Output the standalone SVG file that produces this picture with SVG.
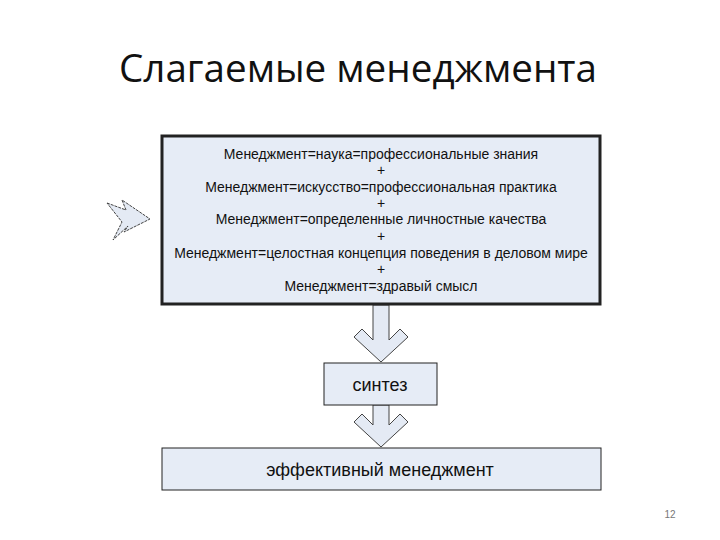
<svg xmlns="http://www.w3.org/2000/svg" width="720" height="540" viewBox="0 0 720 540">
<style>
.t{font-family:"Liberation Sans",Arial,sans-serif;font-size:14px;fill:#111;text-anchor:middle}
.big{font-size:18px}
.b{fill:#e6ecf6;stroke:#222}
.ar{fill:#e4eaf4;stroke:#444;stroke-width:1}
</style>
<rect width="720" height="540" fill="#fff"/>
<text x="358" y="82" font-family="'Open Sans','Noto Sans',sans-serif" font-size="38" fill="#111" text-anchor="middle" textLength="478" lengthAdjust="spacingAndGlyphs">Слагаемые менеджмента</text>
<g id="connectors">
<path class="ar" d="M373,305 H389 V340 L400,329 L408,337 L381,362 L354,337 L362,329 L373,340 Z"/>
<path class="ar" d="M373,405 H389 V425 L400,414 L408,422 L381,447 L354,422 L362,414 L373,425 Z"/>
<path class="ar" d="M107,203 L126,210 L122,200 L150,219 L124,232 L128,226 L113,240 L122,222 Z" stroke-dasharray="3,1"/>
</g>
<g id="components">
<rect class="b" x="162" y="136" width="438" height="168" stroke-width="3"/>
<text class="t" x="381" y="159">Менеджмент=наука=профессиональные знания</text>
<text class="t" x="381" y="175">+</text>
<text class="t" x="381" y="192">Менеджмент=искусство=профессиональная практика</text>
<text class="t" x="381" y="208">+</text>
<text class="t" x="381" y="224">Менеджмент=определенные личностные качества</text>
<text class="t" x="381" y="241">+</text>
<text class="t" x="381" y="258">Менеджмент=целостная концепция поведения в деловом мире</text>
<text class="t" x="381" y="274">+</text>
<text class="t" x="381" y="291">Менеджмент=здравый смысл</text>
</g>
<g id="synthesis">
<rect class="b" x="324" y="363" width="113" height="42" stroke-width="1"/>
<text class="t big" x="380" y="391">синтез</text>
</g>
<g id="result">
<rect class="b" x="162" y="448" width="439" height="42" stroke-width="1"/>
<text class="t big" x="380" y="476">эффективный менеджмент</text>
</g>
<text x="670" y="518" font-family="'Liberation Sans',sans-serif" font-size="10" fill="#777" text-anchor="middle">12</text>
</svg>
